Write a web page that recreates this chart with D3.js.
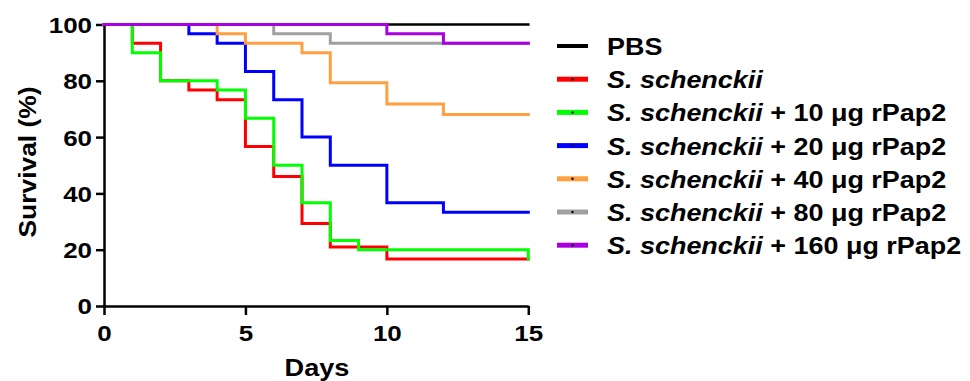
<!DOCTYPE html>
<html lang="en">
<head>
    <meta charset="UTF-8">
    <title>Survival curves</title>
    <script src="https://d3js.org/d3.v7.min.js"></script>
    <style>
        body { margin: 0; background: #fff; }
        text { font-family: "Liberation Sans", Arial, sans-serif; font-weight: bold; }
    </style>
</head>
<body>
    <svg width="970" height="381"></svg>

    <script>
        // Survival data (day, % surviving) at each change point
        const pbs = [[0, 100], [15, 100]];
        const sSchenckii = [[0, 100], [1, 93.3], [2, 80], [3, 76.7], [4, 73.3], [5, 56.7], [6, 46], [7, 29.3], [8, 21], [10, 16.7], [15, 16.7]];
        const rPap10 = [[0, 100], [1, 90], [2, 80], [4, 76.7], [5, 66.7], [6, 50], [7, 36.7], [8, 23.3], [9, 20], [15, 16.7]];
        const rPap20 = [[0, 100], [3, 96.7], [4, 93.3], [5, 83.3], [6, 73.3], [7, 60], [8, 50], [10, 36.7], [12, 33.3], [15, 33.3]];
        const rPap40 = [[0, 100], [4, 96.7], [5, 93.3], [7, 90], [8, 79.3], [10, 71.8], [12, 68], [15, 68]];
        const rPap80 = [[0, 100], [6, 96.7], [8, 93.3], [15, 93.3]];
        const rPap160 = [[0, 100], [10, 96.7], [12, 93.3], [15, 93.3]];

        const doses = [null, null, "10", "20", "40", "80", "160"];
        const xTicks = [0, 5, 10, 15];
        const yTicks = [0, 20, 40, 60, 80, 100];

        const series = [
            {name: "PBS", data: pbs, color: "#000000", width: 2.5},
            {name: "S. schenckii", data: sSchenckii, color: "#ff0000", width: 3},
            {name: "S. schenckii", data: rPap10, color: "#00ff00", width: 3},
            {name: "S. schenckii", data: rPap20, color: "#0000ff", width: 3},
            {name: "S. schenckii", data: rPap40, color: "#ffa040", width: 3},
            {name: "S. schenckii", data: rPap80, color: "#a0a0a0", width: 3},
            {name: "S. schenckii", data: rPap160, color: "#a800e0", width: 3}
        ];

        // the source text is a little wider than normal Arial
        const stretch = 1.18;

        const svg = d3.select("svg");

        const x = d3.scaleLinear().domain([0, 15]).range([104, 528.3]);
        const y = d3.scaleLinear().domain([0, 100]).range([306, 24.5]);

        // Axes
        const xAxis = svg.append("g")
            .attr("transform", `translate(0,${y(0)})`)
            .call(d3.axisBottom(x).tickValues(xTicks).tickSize(9).tickPadding(10).tickSizeOuter(0));
        const yAxis = svg.append("g")
            .attr("transform", `translate(${x(0)},0)`)
            .call(d3.axisLeft(y).tickValues(yTicks).tickSize(8).tickPadding(4).tickSizeOuter(0));

        [xAxis, yAxis].forEach(a => {
            a.select(".domain").attr("stroke", "#000").attr("stroke-width", 2.5);
            a.selectAll(".tick line").attr("stroke", "#000").attr("stroke-width", 2.5);
            a.selectAll(".tick text")
                .attr("fill", "#000")
                .style("font-size", "22px")
                .style("font-family", "'Liberation Sans', Arial, sans-serif")
                .style("font-weight", "bold");
        });
        xAxis.selectAll(".tick text").attr("transform", `scale(${stretch},1)`);
        yAxis.selectAll(".tick text")
            .attr("dy", "0.36em")
            .attr("x", -12 / stretch)
            .attr("transform", `scale(${stretch},1)`);

        // Axis titles
        svg.append("text")
            .attr("transform", `translate(36,162) rotate(-90) scale(1.1,1)`)
            .attr("text-anchor", "middle")
            .style("font-size", "24px")
            .text("Survival (%)");
        svg.append("text")
            .attr("transform", `translate(317,376) scale(${stretch},1)`)
            .attr("text-anchor", "middle")
            .style("font-size", "23px")
            .text("Days");

        // Step lines
        const line = d3.line()
            .x(d => x(d[0]))
            .y(d => y(d[1]))
            .curve(d3.curveStepAfter);

        svg.selectAll(".curve")
            .data(series)
            .enter()
            .append("path")
            .attr("class", "curve")
            .attr("d", d => line(d.data))
            .attr("fill", "none")
            .attr("stroke", d => d.color)
            .attr("stroke-width", d => d.width)
            .attr("stroke-linecap", "square")
            .attr("stroke-linejoin", "miter");

        // Legend
        const legend = svg.append("g").attr("transform", "translate(557,46)");
        const rowGap = 33.2;

        const rows = legend.selectAll(".row")
            .data(series)
            .enter()
            .append("g")
            .attr("class", "row")
            .attr("transform", (d, i) => `translate(0,${i * rowGap})`);

        rows.append("line")
            .attr("x1", 0).attr("x2", 31)
            .attr("stroke", d => d.color)
            .attr("stroke-width", (d, i) => i === 0 ? 4 : 5);

        rows.filter((d, i) => i > 0)
            .append("circle")
            .attr("cx", 15.5).attr("r", 1.2)
            .attr("fill", "#000");

        const label = rows.append("text")
            .attr("transform", "translate(50,9) scale(1.1,1)")
            .style("font-size", "24.5px");

        label.append("tspan")
            .style("font-style", (d, i) => i === 0 ? "normal" : "italic")
            .text(d => d.name);
        label.filter((d, i) => doses[i] !== null)
            .append("tspan")
            .text(d => ` + ${doses[series.indexOf(d)]} \u03BCg rPap2`);
    </script>
</body>
</html>
